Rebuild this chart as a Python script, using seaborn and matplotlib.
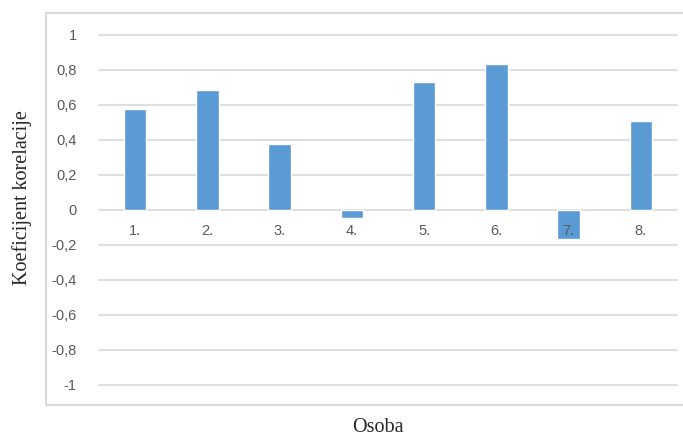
import matplotlib
matplotlib.use("Agg")
import matplotlib.pyplot as plt
import pandas as pd
import seaborn as sns
from matplotlib.patches import Rectangle

# Podaci
osobe = ["1.", "2.", "3.", "4.", "5.", "6.", "7.", "8."]
koeficijenti = [0.576, 0.684, 0.375, -0.044, 0.730, 0.831, -0.165, 0.506]
y_ticks = [-1, -0.8, -0.6, -0.4, -0.2, 0, 0.2, 0.4, 0.6, 0.8, 1]

sns.set_style("white")
plt.rcParams["font.family"] = ["Liberation Sans", "DejaVu Sans"]

df = pd.DataFrame({"Osoba": osobe, "Koeficijent": koeficijenti})

fig = plt.figure(figsize=(6.83, 4.38), dpi=100)
ax = fig.add_axes([99 / 683, 1 - 385 / 438, 578 / 683, (385 - 34.7) / 438])

sns.barplot(data=df, x="Osoba", y="Koeficijent", color="#5B9BD5",
            saturation=1, width=0.31, ax=ax, zorder=3)

ax.set_xlim(-0.5, len(osobe) - 0.5)
ax.set_ylim(-1, 1)
ax.set_yticks(y_ticks)
ax.set_yticklabels([("%g" % v).replace(".", ",") for v in y_ticks],
                   color="#595959", fontsize=10.5)
ax.tick_params(axis="y", length=0, pad=16)
ax.set_xticks([])
ax.set_xlabel("")
ax.set_ylabel("")
ax.grid(axis="y", color="#D9D9D9", linewidth=1.2, zorder=0)
for gl in ax.get_ygridlines():
    gl.set_clip_on(False)
for s in ax.spines.values():
    s.set_visible(False)

# oznake kategorija odmah ispod nule
for i, lab in enumerate(osobe):
    ax.annotate(lab, (i, 0), xytext=(0, -15.5), textcoords="offset points",
                ha="center", va="center", color="#595959", fontsize=10.5,
                zorder=4)

# okvir grafikona
fig.patches.append(Rectangle((46 / 683, 1 - 405 / 438), 1.5, (405 - 13) / 438,
                             transform=fig.transFigure, fill=False,
                             edgecolor="#D9D9D9", linewidth=1.5))

fig.text(378 / 683, 1 - 428 / 438, "Osoba", ha="center", va="center",
         family="Liberation Serif", fontsize=14.5)
fig.text(22 / 683, 1 - 198 / 438, "Koeficijent korelacije", ha="center",
         va="center", rotation=90, family="Liberation Serif", fontsize=14.5)

fig.savefig("out.png", dpi=100)
